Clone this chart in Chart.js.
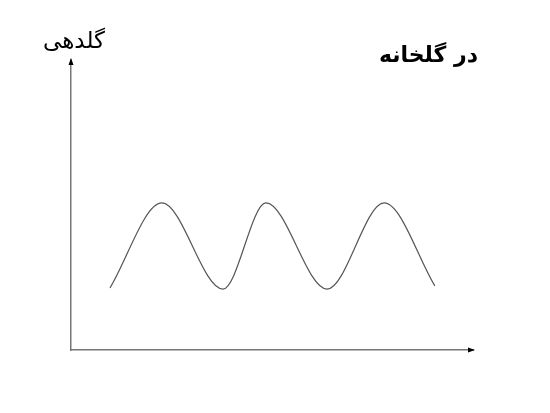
<!DOCTYPE html>
<html>
<head>
<meta charset="utf-8">
<script src="https://cdn.jsdelivr.net/npm/chart.js@4/dist/chart.umd.min.js"></script>
<style>
  html, body { margin: 0; padding: 0; background: #fff; }
  #wrap { width: 550px; height: 413px; }
</style>
</head>
<body>
<div id="wrap"><canvas id="chart"></canvas></div>
<script>
// flowering curve (x: time, y: flowering level)
const xValues = [9.7, 22.6, 37.8, 48.5, 63.7, 77.9, 90.5];
const yValues = [21.4, 50.7, 21.0, 50.7, 21.0, 50.7, 22.1];
const yLabel = 'گلدهی';
const titleText = 'در گلخانه';

const points = xValues.map((x, i) => ({ x: x, y: yValues[i] }));

const axisArrows = {
    id: 'axisArrows',
    afterDraw(chart) {
        const ctx = chart.ctx;
        const a = chart.chartArea;
        ctx.save();
        ctx.fillStyle = '#000';
        // y arrow
        ctx.beginPath();
        ctx.moveTo(a.left, a.top - 2);
        ctx.lineTo(a.left - 2.5, a.top + 5);
        ctx.lineTo(a.left + 2.5, a.top + 5);
        ctx.closePath();
        ctx.fill();
        // x arrow
        ctx.beginPath();
        ctx.moveTo(a.right + 2, a.bottom);
        ctx.lineTo(a.right - 5, a.bottom - 2.5);
        ctx.lineTo(a.right - 5, a.bottom + 2.5);
        ctx.closePath();
        ctx.fill();

        ctx.direction = 'rtl';
        ctx.textBaseline = 'middle';
        ctx.textAlign = 'center';
        ctx.font = '23px "DejaVu Sans", sans-serif';
        ctx.fillText(yLabel, a.left + 3, 42);
        ctx.textAlign = 'right';
        ctx.font = 'bold 22px "DejaVu Sans", sans-serif';
        ctx.fillText(titleText, 478, 56);
        ctx.restore();
    }
};

new Chart(document.getElementById('chart').getContext('2d'), {
    type: 'line',
    data: {
        datasets: [{
            data: points,
            borderColor: '#555',
            borderWidth: 1.2,
            pointRadius: 0,
            cubicInterpolationMode: 'monotone',
            fill: false
        }]
    },
    options: {
        responsive: true,
        maintainAspectRatio: false,
        animation: false,
        layout: { padding: { left: 63, right: 77, top: 60, bottom: 55 } },
        plugins: { legend: { display: false }, tooltip: { enabled: false } },
        scales: {
            x: {
                type: 'linear', min: 0, max: 100,
                grid: { display: false },
                ticks: { display: false },
                border: { display: true, color: '#777', width: 1.5 }
            },
            y: {
                min: 0, max: 100,
                grid: { display: false },
                ticks: { display: false },
                border: { display: true, color: '#777', width: 1.5 }
            }
        }
    },
    plugins: [axisArrows]
});
</script>
</body>
</html>
